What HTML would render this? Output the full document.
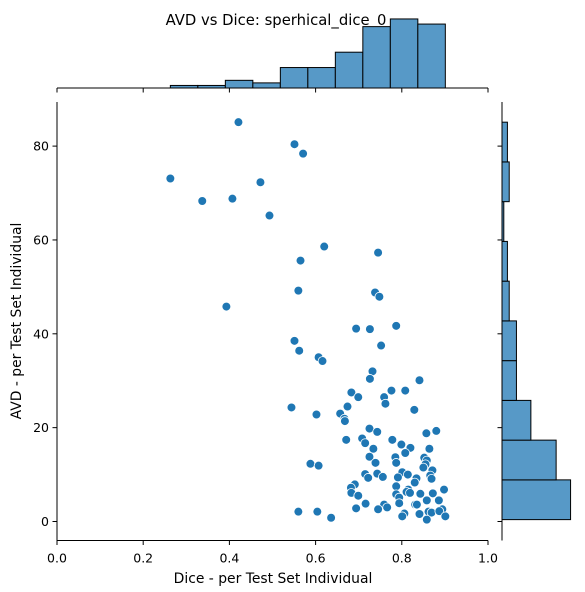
<!DOCTYPE html>
<html><head><meta charset="utf-8"><style>
html,body{margin:0;padding:0;background:#fff;}
svg{display:block;font-family:"DejaVu Sans","Liberation Sans",sans-serif;}
</style></head><body>
<svg id="c" width="585" height="592" viewBox="0 0 585 592">
<text x="276" y="25" text-anchor="middle" font-size="14.8" fill="#000">AVD vs Dice: sperhical_dice_0</text>
<text x="273" y="583" text-anchor="middle" font-size="13.9" fill="#000">Dice - per Test Set Individual</text>
<text transform="translate(21,321) rotate(-90)" text-anchor="middle" font-size="13.9" fill="#000">AVD - per Test Set Individual</text>
<g id="mainG"></g>
<g id="topG"></g>
<g id="rightG"></g>
</svg>
<script>
const dice = [0.421,0.551,0.571,0.263,0.472,0.337,0.407,0.493,0.620,0.745,0.565,0.560,0.738,0.748,0.393,0.694,0.726,0.787,0.752,0.551,0.562,0.607,0.616,
0.732,0.726,0.841,0.683,0.699,0.776,0.808,0.759,0.762,0.544,0.674,0.829,0.602,0.657,0.667,0.668,0.725,0.743,0.857,0.880,0.671,0.708,0.715,0.778,0.799,0.820,0.734,0.808,0.864,0.725,0.785,0.739,0.787,0.852,0.858,0.855,0.850,0.588,0.607,0.871,0.801,0.814,0.715,0.722,0.743,0.756,0.791,0.834,0.866,0.869,0.830,0.787,0.691,0.682,0.683,0.815,0.811,0.819,0.787,0.843,0.872,0.898,0.699,0.794,0.794,0.886,0.858,0.716,0.694,0.759,0.766,0.745,0.831,0.835,0.806,0.801,0.841,0.862,0.869,0.894,0.887,0.858,0.901,0.560,0.604,0.636];
const avd = [85.1,80.4,78.4,73.1,72.3,68.3,68.8,65.2,58.6,57.3,55.6,49.2,48.8,47.9,45.8,41.1,41.0,41.7,37.5,38.5,36.4,35.0,34.2,
32.0,30.4,30.1,27.5,26.5,27.9,27.9,26.5,25.1,24.3,24.5,23.8,22.8,23.0,21.9,21.4,19.8,19.1,18.8,19.3,17.4,17.7,16.7,17.4,16.4,15.7,15.5,14.6,15.5,13.8,13.7,12.5,12.5,13.6,13.0,12.2,11.5,12.3,11.9,10.9,10.5,10.0,10.1,9.3,10.2,9.5,9.4,9.2,9.8,9.1,8.3,7.5,7.9,7.2,6.1,6.8,6.3,6.1,5.8,5.9,6.0,6.8,5.5,5.1,3.9,4.5,4.5,3.8,2.8,3.6,3.0,2.6,3.6,3.6,1.7,1.1,1.6,2.1,1.9,2.6,2.2,0.4,1.1,2.1,2.1,0.8];
const diceCounts = [1,1,3,2,8,8,14,24,27,25];
const avdCounts = [38,30,16,8,8,4,3,1,4,3];
const xTicks = [0,0.2,0.4,0.6,0.8,1.0];
const xTickLabels = ["0.0","0.2","0.4","0.6","0.8","1.0"];
const yTicks = [0,20,40,60,80];
const yTickLabels = ["0","20","40","60","80"];

const NS="http://www.w3.org/2000/svg";
function mk(tag,attrs,parent){const e=document.createElementNS(NS,tag);for(const k in attrs)e.setAttribute(k,attrs[k]);parent.appendChild(e);return e;}
const L=57,R=488,T=102,B=540.5;
const xMin=0,xMax=1,yMin=-4.05,yMax=89.4;
const sx=v=>L+(v-xMin)/(xMax-xMin)*(R-L);
const sy=v=>B-(v-yMin)/(yMax-yMin)*(B-T);
const mainG=document.getElementById('mainG');
let s=mk('line',{x1:L,y1:T,x2:L,y2:B,stroke:'#000','stroke-width':1},mainG);


s=mk('line',{x1:L,y1:B,x2:R,y2:B,stroke:'#000','stroke-width':1},mainG);


xTicks.forEach((t,i)=>{
  const x=sx(t);
  const l=mk('line',{x1:x,y1:B,x2:x,y2:B+4.5,stroke:'#000'},mainG);
  
  
  const tx=mk('text',{x:x,y:B+22,'text-anchor':'middle','font-size':12.5},mainG);
  tx.textContent=xTickLabels[i];
  
  
  const l2=mk('line',{x1:x,y1:88,x2:x,y2:92.5,stroke:'#000'},mainG);
  
  
});
yTicks.forEach((t,i)=>{
  const y=sy(t);
  const l=mk('line',{x1:L-4.5,y1:y,x2:L,y2:y,stroke:'#000'},mainG);
  
  
  const tx=mk('text',{x:L-8,y:y+4.5,'text-anchor':'end','font-size':12.5},mainG);
  tx.textContent=yTickLabels[i];
  
  
  const l2=mk('line',{x1:497.5,y1:y,x2:502,y2:y,stroke:'#000'},mainG);
  
  
});
dice.forEach((d,i)=>{
  const c=mk('circle',{cx:sx(d),cy:sy(avd[i]),r:4.4,fill:'#1f77b4',stroke:'#fff','stroke-width':0.8},mainG);
  
  
});
const topG=document.getElementById('topG');
const TB=88, topScale=72.5/(Math.max(...diceCounts)*1.05);
const dMin=Math.min(...dice), dMax=Math.max(...dice), dW=(dMax-dMin)/diceCounts.length;
diceCounts.forEach((c,i)=>{
  const x0=sx(dMin+i*dW), x1=sx(dMin+(i+1)*dW), h=c*topScale;
  const r=mk('rect',{x:x0,y:TB-h,width:x1-x0,height:h,fill:'#5799c7',stroke:'#000','stroke-width':1},topG);
  
  
});
s=mk('line',{x1:L,y1:TB,x2:R,y2:TB,stroke:'#000'},topG);


const rightG=document.getElementById('rightG');
const RL=502, rScale=72/(Math.max(...avdCounts)*1.05);
const aMin=Math.min(...avd), aMax=Math.max(...avd), aW=(aMax-aMin)/avdCounts.length;
avdCounts.forEach((c,i)=>{
  const y0=sy(aMin+i*aW), y1=sy(aMin+(i+1)*aW), w=c*rScale;
  const r=mk('rect',{x:RL,y:y1,width:w,height:y0-y1,fill:'#5799c7',stroke:'#000','stroke-width':1},rightG);
  
  
});
s=mk('line',{x1:RL,y1:T,x2:RL,y2:B,stroke:'#000'},rightG);


</script>
</body></html>
